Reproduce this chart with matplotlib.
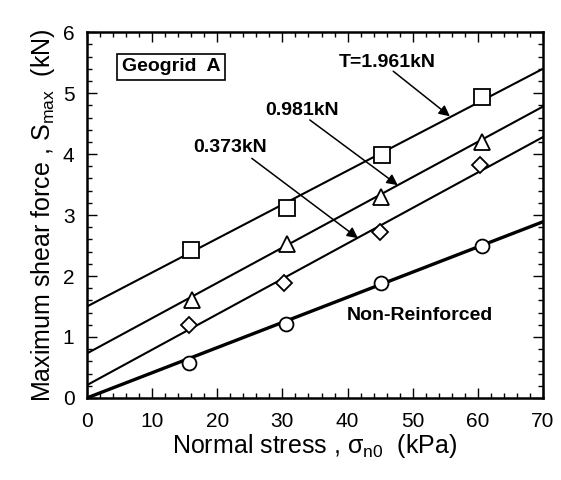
import matplotlib
matplotlib.use('Agg')
import matplotlib.pyplot as plt
from matplotlib.ticker import MultipleLocator

# Measured points (normal stress kPa, max shear force kN)
stress_sq = [16.0, 30.7, 45.3, 60.7]
shear_sq = [2.43, 3.11, 3.98, 4.94]
stress_tri = [16.1, 30.7, 45.2, 60.6]
shear_tri = [1.61, 2.52, 3.30, 4.19]
stress_dia = [15.6, 30.3, 45.0, 60.3]
shear_dia = [1.20, 1.89, 2.72, 3.82]
stress_circ = [15.7, 30.6, 45.2, 60.7]
shear_circ = [0.58, 1.21, 1.88, 2.49]

# Fitted lines, value at x=0 and x=70
line_x = [0, 70]
line_sq = [1.50, 5.40]
line_tri = [0.73, 4.78]
line_dia = [0.21, 4.28]
line_circ = [0.00, 2.89]


def main():
    plt.rcParams['font.family'] = ['Liberation Sans', 'DejaVu Sans']
    fig = plt.figure(figsize=(5.61, 4.8), dpi=100)
    ax = fig.add_axes([0.155, 0.171, 0.813, 0.762])

    ax.plot(line_x, line_sq, color='black', lw=1.5)
    ax.plot(line_x, line_tri, color='black', lw=1.5)
    ax.plot(line_x, line_dia, color='black', lw=1.5)
    ax.plot(line_x, line_circ, color='black', lw=2.4)

    mk = dict(ls='none', mfc='white', mec='black', mew=1.3, zorder=3)
    ax.plot(stress_sq, shear_sq, marker='s', ms=11, **mk)
    ax.plot(stress_tri, shear_tri, marker='^', ms=11, **mk)
    ax.plot(stress_dia, shear_dia, marker='D', ms=8, **mk)
    ax.plot(stress_circ, shear_circ, marker='o', ms=10, **mk)

    arrow = dict(arrowstyle='-|>', color='black', lw=1.1, mutation_scale=16,
                 shrinkA=0, shrinkB=0)
    ax.annotate('', xy=(55.7, 4.62), xytext=(47.0, 5.36), arrowprops=arrow)
    ax.annotate('', xy=(47.7, 3.49), xytext=(34.2, 4.56), arrowprops=arrow)
    ax.annotate('', xy=(41.6, 2.62), xytext=(25.3, 3.93), arrowprops=arrow)

    tkw = dict(fontsize=14, fontweight='bold', ha='center', va='center')
    ax.text(46.1, 5.51, 'T=1.961kN', **tkw)
    ax.text(33.0, 4.72, '0.981kN', **tkw)
    ax.text(22.0, 4.10, '0.373kN', **tkw)
    ax.text(51.1, 1.36, 'Non-Reinforced', **tkw)
    ax.text(12.9, 5.43, 'Geogrid  A', fontsize=14, fontweight='bold',
            ha='center', va='center',
            bbox=dict(boxstyle='square,pad=0.25', fc='white', ec='black', lw=1.2))

    ax.set_xlim(0, 70)
    ax.set_ylim(0, 6)
    ax.xaxis.set_major_locator(MultipleLocator(10))
    ax.xaxis.set_minor_locator(MultipleLocator(2))
    ax.yaxis.set_major_locator(MultipleLocator(1))
    ax.yaxis.set_minor_locator(MultipleLocator(0.2))
    ax.tick_params(which='both', direction='in', top=True, right=True,
                   labelsize=15, width=1)
    ax.tick_params(which='major', length=7)
    ax.tick_params(axis='x', which='major', pad=10)
    ax.tick_params(axis='y', which='major', pad=9)
    ax.tick_params(which='minor', length=3.5)
    for s in ax.spines.values():
        s.set_linewidth(1.8)

    ax.set_xlabel('Normal stress , σ$_{\\mathregular{n0}}$  (kPa)', fontsize=18,
                  labelpad=1)
    ax.set_ylabel('Maximum shear force , S$_{\\mathregular{max}}$  (kN)',
                  fontsize=18, labelpad=4)

    fig.savefig('out.png', dpi=100)


if __name__ == "__main__":
    main()
